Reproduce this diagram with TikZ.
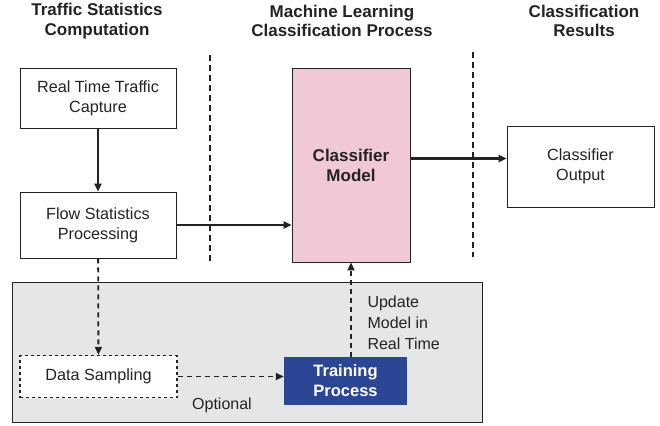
\documentclass[tikz,border=0pt]{standalone}
\usepackage{fontspec}
\setmainfont{Liberation Sans}
\usepackage{tikz}
\usetikzlibrary{arrows.meta, positioning}
\definecolor{InkGray}{RGB}{35, 35, 35}
\definecolor{PanelGray}{RGB}{229, 231, 231}
\definecolor{ModelPink}{RGB}{241, 201, 214}
\definecolor{TrainBlue}{RGB}{44, 70, 150}
\tikzset{
  box/.style={rectangle, draw=InkGray, fill=white, line width=0.8pt,
    align=center, font=\fontsize{16.2}{20}\selectfont, text=InkGray},
  model/.style={box, fill=ModelPink, font=\fontsize{17}{20}\selectfont\bfseries},
  sampbox/.style={box, dashed, line width=1.3pt},
  trainbox/.style={rectangle, fill=TrainBlue, align=center,
    font=\fontsize{16.5}{20}\selectfont\bfseries, text=white},
  panel/.style={rectangle, draw=InkGray, fill=PanelGray, line width=0.8pt},
  head/.style={align=center, font=\fontsize{17}{19.5}\selectfont\bfseries, text=InkGray},
  lbl/.style={align=left, font=\fontsize{16}{21}\selectfont, text=InkGray},
  arr/.style={-{Triangle[length=8pt,width=7pt]}, line width=2.3pt, color=InkGray},
  darr/.style={-{Triangle[length=8pt,width=7pt]}, line width=1.8pt, color=InkGray,
    dash pattern=on 5pt off 4pt},
  sep/.style={line width=1.8pt, color=InkGray, dash pattern=on 6pt off 4pt},
}
\begin{document}
\begin{tikzpicture}[x=1pt, y=-1pt]
  \useasboundingbox (0,0) rectangle (660,425);
  % column headings
  \node[head] (h1) at (97,21) {Traffic Statistics\\Computation};
  \node[head] (h2) at (342,21) {Machine Learning\\Classification Process};
  \node[head] (h3) at (584,21) {Classification\\Results};
  \draw[sep] (210,55) -- (210,262);
  \draw[sep] (473,52) -- (473,257);
  % training area
  \node[panel, minimum width=470pt, minimum height=140pt] (pnl) at (247,352) {};
  \node[box, minimum width=156pt, minimum height=60pt]
    (rtc) at (98,98) {Real Time Traffic\\Capture};
  \node[box, minimum width=156pt, minimum height=66pt]
    (fsp) at (98,225) {Flow Statistics\\Processing};
  \node[model, minimum width=118pt, minimum height=194pt]
    (cm) at (351,165) {Classifier\\Model};
  \node[box, minimum width=147pt, minimum height=81pt]
    (co) at (580.5,166.5) {Classifier\\Output};
  \node[sampbox, minimum width=157pt, minimum height=42pt]
    (ds) at (98.5,376.5) {Data Sampling};
  \node[trainbox, minimum width=123pt, minimum height=48pt]
    (tp) at (345.5,381) {Training\\Process};
  \draw[arr] (rtc) -- (fsp);
  \draw[arr] (fsp.east) -- (fsp.east -| cm.west);
  \draw[arr] ([yshift=8pt]co.west -| cm.east) -- ([yshift=8pt]co.west);
  \draw[darr] (fsp) -- (ds);
  \draw[darr] (ds.east) -- (ds.east -| tp.west);
  \draw[darr] (cm.south |- tp.north) -- (cm.south);
  \node[lbl] (opt) at (222,405) {Optional};
  \node[lbl, anchor=west] (upd) at (364,323) {Update\\Model in\\Real Time};
\end{tikzpicture}
\end{document}
